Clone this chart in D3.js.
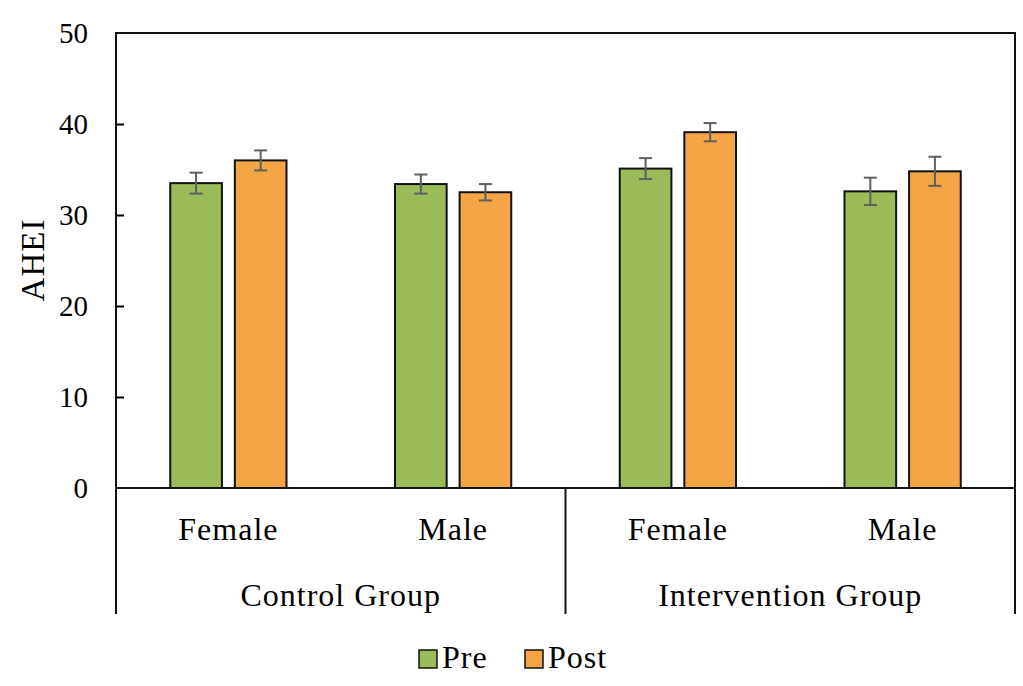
<!DOCTYPE html>
<html>
<head>
<meta charset="utf-8">
<script src="https://cdn.jsdelivr.net/npm/d3@7"></script>
<style>
  body { margin: 0; background: #fff; }
  text { font-family: "Liberation Serif", "DejaVu Serif", serif; fill: #000; }
</style>
</head>
<body>
<svg id="chart" width="1023" height="686"></svg>
<script>
// values
const groups = ["Control Group", "Intervention Group"];
const subgroups = ["Female", "Male"];
const series = ["Pre", "Post"];
const preValues = [33.5, 33.4, 35.1, 32.6];
const postValues = [36.0, 32.5, 39.1, 34.8];
const preErrors = [1.15, 1.05, 1.15, 1.5];
const postErrors = [1.1, 0.9, 1.0, 1.6];
const yTicks = [0, 10, 20, 30, 40, 50];

const colors = { Pre: "#9bbb59", Post: "#f4a646" };

const plotLeft = 116, plotRight = 1015, plotTop = 33, plotBottom = 488, frameBottom = 614;

let cats = [];
groups.forEach((g, gi) => subgroups.forEach((s, si) => {
    let i = gi * subgroups.length + si;
    cats.push({ key: g + "|" + s, group: g, sub: s,
        values: { Pre: preValues[i], Post: postValues[i] },
        errors: { Pre: preErrors[i], Post: postErrors[i] } });
}));

let svg = d3.select("#chart");

let x0 = d3.scaleBand().domain(cats.map(d => d.key)).range([plotLeft, plotRight]);
let x1 = d3.scaleBand().domain(series).range([0, x0.bandwidth()])
    .paddingInner(0.2).paddingOuter(0.84);
let xg = d3.scaleBand().domain(groups).range([plotLeft, plotRight]);
let y = d3.scaleLinear().domain([0, 50]).range([plotBottom, plotTop]);

// y axis with inward ticks
let yAxis = d3.axisLeft(y).tickValues(yTicks).tickSize(-8).tickPadding(28).tickFormat(d3.format("d"));
let ya = svg.append("g").attr("transform", `translate(${plotLeft},0)`).call(yAxis);
ya.select(".domain").remove();
ya.selectAll(".tick line").attr("stroke", "#000").attr("stroke-width", 2)
    .filter(d => d === 0 || d === 50).remove();
ya.selectAll(".tick text").attr("font-size", 29).attr("dy", "0.34em")
    .style("font-family", "'Liberation Serif', serif");

svg.append("text")
    .attr("transform", `translate(44,260) rotate(-90)`)
    .attr("text-anchor", "middle")
    .attr("font-size", 33)
    .attr("letter-spacing", 1)
    .text("AHEI");

// bars
let cat = svg.append("g").selectAll("g").data(cats).join("g")
    .attr("transform", d => `translate(${x0(d.key)},0)`);

cat.selectAll("rect").data(d => series.map(s => ({ s, v: d.values[s] }))).join("rect")
    .attr("x", d => x1(d.s))
    .attr("y", d => y(d.v))
    .attr("width", x1.bandwidth())
    .attr("height", d => y(0) - y(d.v))
    .attr("fill", d => colors[d.s])
    .attr("stroke", "#111")
    .attr("stroke-width", 2);

// error bars
let err = cat.selectAll("g.err").data(d => series.map(s => ({ s, v: d.values[s], e: d.errors[s] }))).join("g")
    .attr("class", "err")
    .attr("transform", d => `translate(${x1(d.s) + x1.bandwidth() / 2},0)`)
    .attr("stroke", "#5f5f5f").attr("stroke-width", 2);
err.append("line").attr("y1", d => y(d.v + d.e)).attr("y2", d => y(d.v - d.e));
err.append("line").attr("x1", -6.5).attr("x2", 6.5).attr("y1", d => y(d.v + d.e)).attr("y2", d => y(d.v + d.e));
err.append("line").attr("x1", -6.5).attr("x2", 6.5).attr("y1", d => y(d.v - d.e)).attr("y2", d => y(d.v - d.e));

// frame lines
let frame = svg.append("g").attr("stroke", "#111").attr("stroke-width", 2).attr("fill", "none");
frame.append("path").attr("d", `M${plotLeft},${frameBottom}V${plotTop}H${plotRight}V${frameBottom}`);
frame.append("line").attr("x1", plotLeft).attr("x2", plotRight).attr("y1", plotBottom).attr("y2", plotBottom);
groups.slice(1).forEach(g => {
    frame.append("line").attr("x1", xg(g)).attr("x2", xg(g)).attr("y1", plotBottom).attr("y2", frameBottom);
});

// category labels
svg.append("g").selectAll("text").data(cats).join("text")
    .attr("x", d => x0(d.key) + x0.bandwidth() / 2)
    .attr("y", 540)
    .attr("text-anchor", "middle")
    .attr("font-size", 32)
    .attr("letter-spacing", 1)
    .text(d => d.sub);

svg.append("g").selectAll("text").data(groups).join("text")
    .attr("x", d => xg(d) + xg.bandwidth() / 2)
    .attr("y", 606)
    .attr("text-anchor", "middle")
    .attr("font-size", 32)
    .attr("letter-spacing", 1)
    .text(d => d);

// legend
let legendX = [419, 525];
let lg = svg.append("g").selectAll("g").data(series).join("g")
    .attr("transform", (d, i) => `translate(${legendX[i]},650)`);
lg.append("rect").attr("width", 18).attr("height", 18)
    .attr("fill", d => colors[d]).attr("stroke", "#111").attr("stroke-width", 1.5);
lg.append("text").attr("x", 23).attr("y", 18).attr("font-size", 32)
    .attr("letter-spacing", 1).text(d => d);
</script>
</body>
</html>
